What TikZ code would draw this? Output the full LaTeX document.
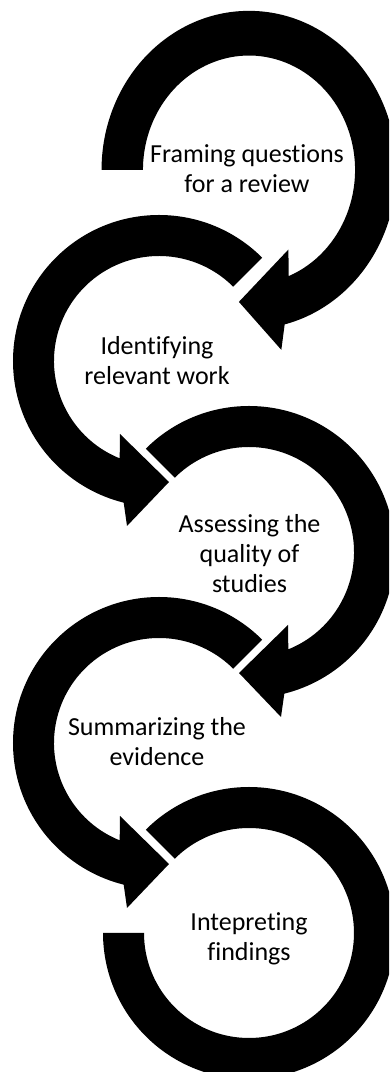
\documentclass[tikz,border=0pt]{standalone}
\usepackage{fontspec}
\setmainfont{Carlito}[Ligatures=NoCommon]
\usepackage{tikz}

% one turn of the spiral: band from #1 round to the head
\newcommand{\turnarrow}[1]{%
    \fill (#1:146pt) arc[start angle=#1, end angle=-76, radius=146pt]
        -- (32,-165) -- (-10,-121) -- (39,-73)
        -- (-68:105pt) arc[start angle=-68, end angle=#1, radius=105pt] -- cycle;}

\begin{document}
\begin{tikzpicture}[x=1pt, y=1pt, font=\fontsize{26}{30}\selectfont]
    \useasboundingbox (0,0) rectangle (389,1072);
    \clip (0,0) rectangle (389,1072);

    % first turn, a little taller than the rest
    \begin{scope}[shift={(249,902)}, xscale=1.01, yscale=1.09]
        \turnarrow{180}
    \end{scope}
    % turns on the left are mirrored
    \begin{scope}[shift={(159,711)}, xscale=-1]
        \turnarrow{135}
    \end{scope}
    \begin{scope}[shift={(249,520)}]
        \turnarrow{135}
    \end{scope}
    \begin{scope}[shift={(159,329)}, xscale=-1]
        \turnarrow{135}
    \end{scope}
    % last ring has no head
    \begin{scope}[shift={(249,139)}]
        \fill (135:146pt) arc[start angle=135, end angle=-180, radius=146pt]
            -- (180:105pt) arc[start angle=-180, end angle=135, radius=105pt] -- cycle;
    \end{scope}

    % step labels (base is the last line)
    \node[anchor=base, align=center, inner sep=0] (frame) at (247,879)
        {Framing questions\\for a review};
    \node[anchor=base, align=center, inner sep=0] (identify) at (157,687)
        {Identifying\\relevant work};
    \node[anchor=base, align=center, inner sep=0] (assess) at (249.5,479)
        {Assessing the\\quality of\\studies};
    \node[anchor=base, align=center, inner sep=0] (summary) at (157,306)
        {Summarizing the\\evidence};
    \node[anchor=base, align=center, inner sep=0] (interpret) at (249,111)
        {Intepreting\\findings};
\end{tikzpicture}
\end{document}
